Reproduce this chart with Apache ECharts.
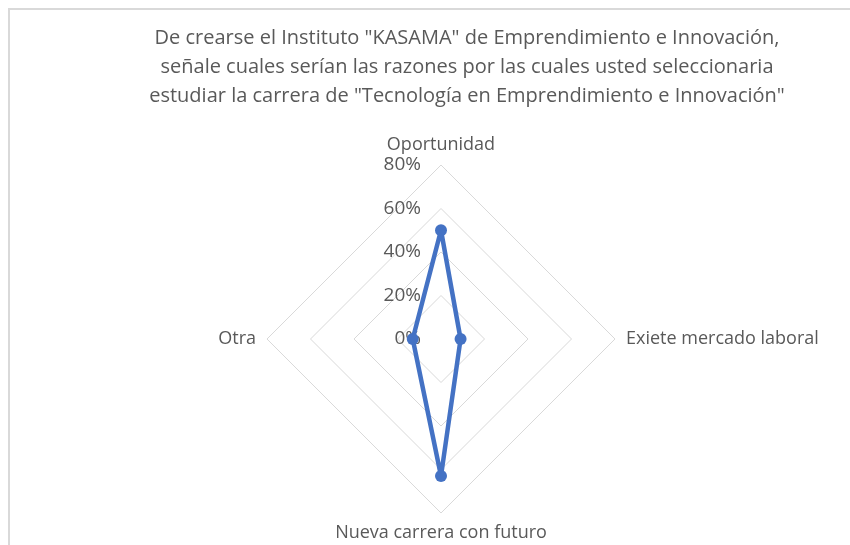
<!DOCTYPE html>
<html>
<head>
<meta charset="utf-8">
<script src="https://cdn.jsdelivr.net/npm/echarts@6/dist/echarts.min.js"></script>
<style>
  html, body { margin: 0; padding: 0; background: #fff; }
  #chart { width: 850px; height: 545px; }
</style>
</head>
<body>
<div id="chart"></div>
<script>
// datos (en sentido horario desde arriba)
var categorias = ['Oportunidad', 'Exiete mercado laboral', 'Nueva carrera con futuro', 'Otra'];
var valores = [50, 9, 63, 13];
var maximo = 80;
var titulo = 'De crearse el Instituto "KASAMA" de Emprendimiento e Innovación,\n' +
    'señale cuales serían las razones por las cuales usted seleccionaria\n' +
    'estudiar la carrera de "Tecnología en Emprendimiento e Innovación"';

var fuente = "'Open Sans', sans-serif";
var gris = '#595959';

var chart = echarts.init(document.getElementById('chart'));

// echarts dibuja el radar en sentido antihorario: invertir el orden menos el primero
var orden = [0];
for (var k = categorias.length - 1; k > 0; k--) orden.push(k);

var indicadores = orden.map(function (i) {
    // solo el eje de arriba lleva etiquetas
    return { name: categorias[i], min: 0, max: maximo, axisLabel: { show: i === 0 } };
});
var valoresOrden = orden.map(function (i) { return valores[i]; });

var option = {
    animation: false,
    backgroundColor: '#fff',
    graphic: [{
        type: 'rect',
        shape: { x: 9, y: 9, width: 900, height: 600 },
        style: { fill: 'none', stroke: '#d9d9d9', lineWidth: 2 },
        silent: true
    }],
    title: {
        text: titulo,
        left: 462,
        top: 19,
        textAlign: 'center',
        textStyle: {
            fontFamily: fuente,
            fontSize: 20,
            fontWeight: 'normal',
            color: gris,
            lineHeight: 29
        }
    },
    radar: {
        center: [441, 339],
        radius: 174,
        shape: 'polygon',
        splitNumber: 4,
        startAngle: 90,
        indicator: indicadores,
        axisName: {
            color: gris,
            fontFamily: fuente,
            fontSize: 18
        },
        nameGap: 11,
        axisLine: { show: false },
        axisTick: { show: false },
        axisLabel: {
            show: false,
            color: gris,
            fontFamily: fuente,
            fontSize: 19,
            margin: 20,
            formatter: function (v) { return v + '%'; }
        },
        splitLine: { lineStyle: { color: '#d9d9d9', width: 1 } },
        splitArea: { show: false }
    },
    series: [{
        type: 'radar',
        symbol: 'circle',
        symbolSize: 12,
        lineStyle: { color: '#4472c4', width: 4.5 },
        itemStyle: { color: '#4472c4' },
        data: [{ value: valoresOrden }]
    }]
};

chart.setOption(option);
</script>
</body>
</html>
